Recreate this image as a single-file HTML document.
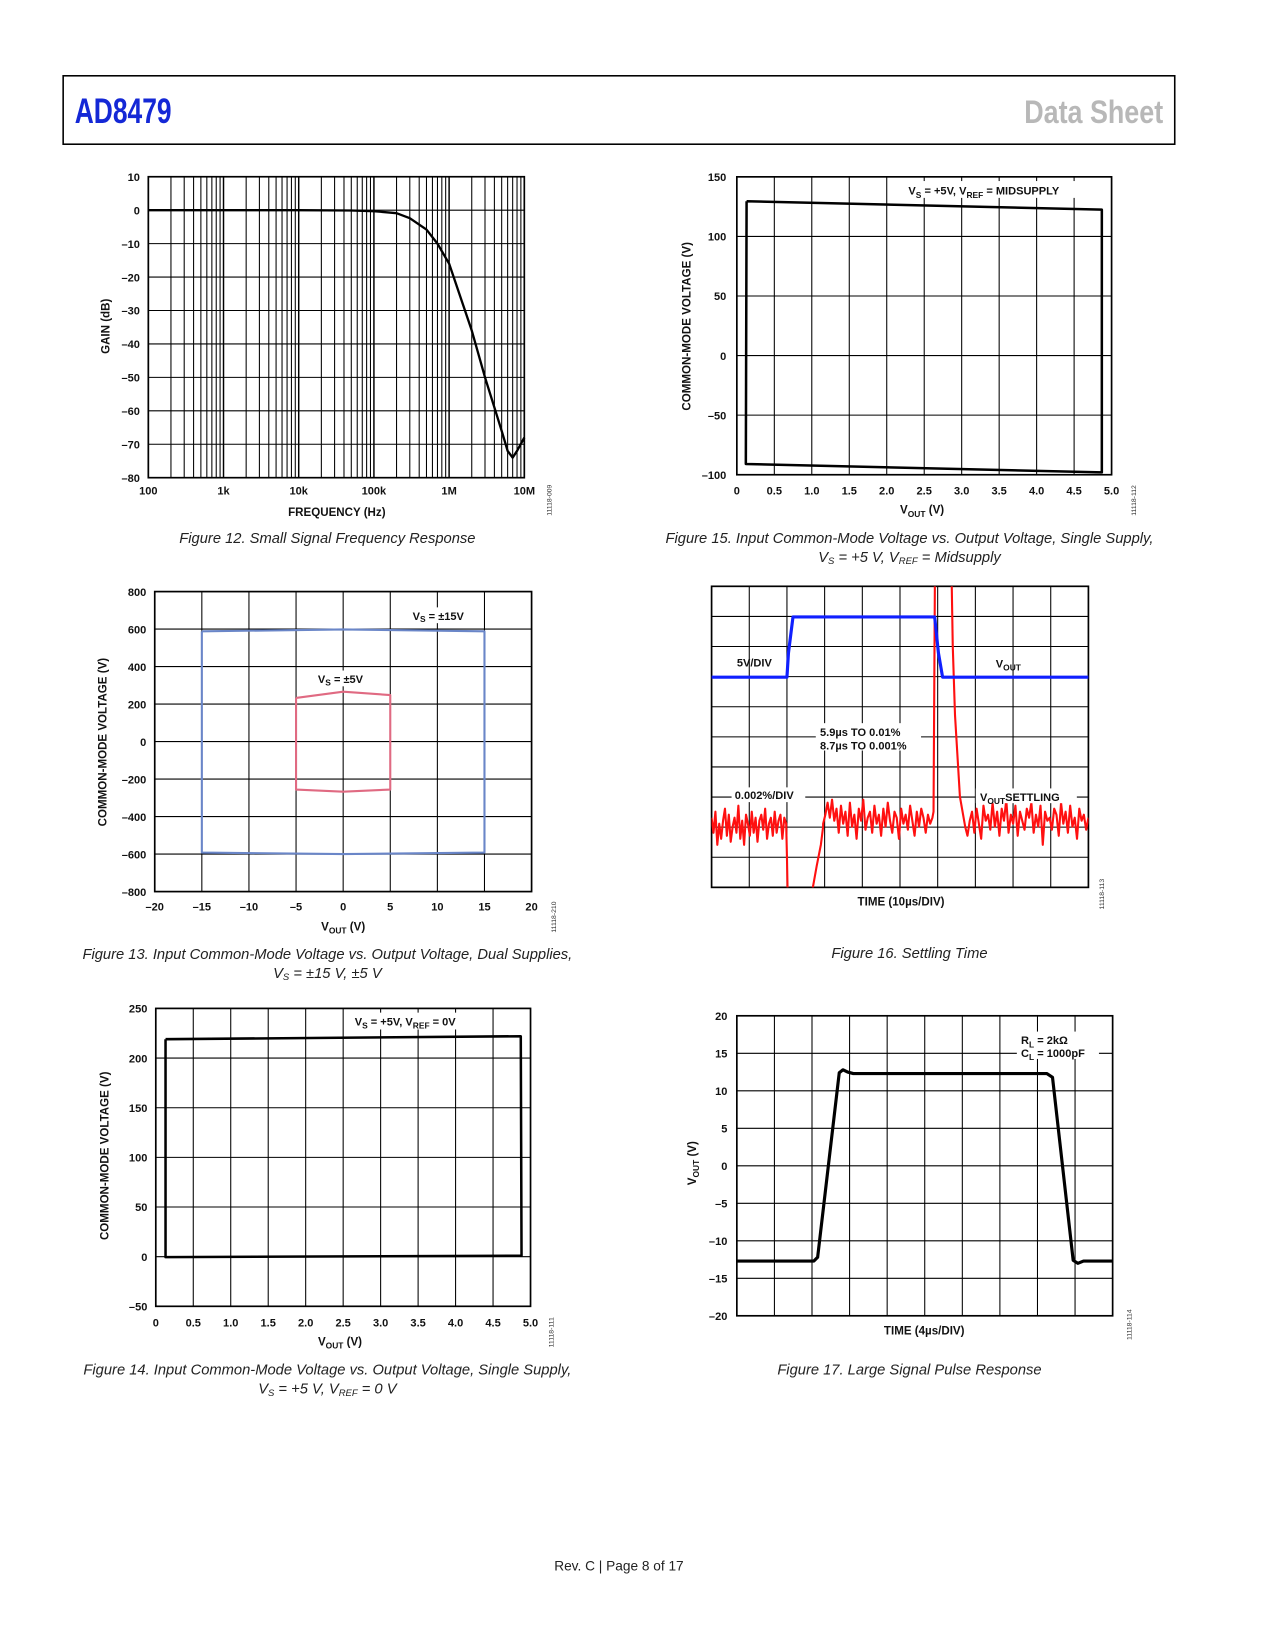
<!DOCTYPE html>
<html><head><meta charset="utf-8"><style>
html,body{margin:0;padding:0;background:#fff;}
svg{display:block;font-family:"Liberation Sans",Arial,sans-serif;}
.tk{font-size:10.5px;font-weight:bold;fill:#111;}
.ax{font-size:11px;font-weight:bold;fill:#111;}
.cap{font-size:14px;font-style:italic;fill:#222;}
.code{font-size:6.5px;fill:#333;}
</style></head><body>
<svg id="pg" width="1275" height="1650" viewBox="0 0 1211.25 1567.5">
<rect x="60" y="72" width="1056" height="65" fill="none" stroke="#000" stroke-width="1.5"/>
<text x="71" y="117" font-size="33" font-weight="bold" fill="#1428d6" textLength="92" lengthAdjust="spacingAndGlyphs">AD8479</text>
<text x="1105" y="117" font-size="31" font-weight="bold" fill="#b8b8b8" text-anchor="end" textLength="132" lengthAdjust="spacingAndGlyphs">Data Sheet</text>

<!-- Fig 12 titles -->
<text class="ax" x="320" y="490" text-anchor="middle">FREQUENCY (Hz)</text>
<text class="ax" transform="translate(104,310) rotate(-90)" text-anchor="middle">GAIN (dB)</text>
<text class="code" transform="translate(524,490) rotate(-90)">11118-009</text>
<text class="cap" x="311" y="516" text-anchor="middle">Figure 12. Small Signal Frequency Response</text>

<!-- Fig 15 titles -->
<text class="ax" x="876" y="488" text-anchor="middle">V<tspan font-size="8" dy="3">OUT</tspan><tspan dy="-3"> (V)</tspan></text>
<text class="ax" transform="translate(656,310) rotate(-90)" text-anchor="middle">COMMON-MODE VOLTAGE (V)</text>
<text class="code" transform="translate(1079,490) rotate(-90)">11118-112</text>
<text class="cap" x="864" y="516" text-anchor="middle">Figure 15. Input Common-Mode Voltage vs. Output Voltage, Single Supply,</text>
<text class="cap" x="864" y="534" text-anchor="middle">V<tspan font-size="9" dy="2">S</tspan><tspan dy="-2"> = +5 V, V</tspan><tspan font-size="9" dy="2">REF</tspan><tspan dy="-2"> = Midsupply</tspan></text>

<!-- Fig 13 titles -->
<text class="ax" x="326" y="884" text-anchor="middle">V<tspan font-size="8" dy="3">OUT</tspan><tspan dy="-3"> (V)</tspan></text>
<text class="ax" transform="translate(101,705) rotate(-90)" text-anchor="middle">COMMON-MODE VOLTAGE (V)</text>
<text class="code" transform="translate(528,886) rotate(-90)">11118-210</text>
<text class="cap" x="311" y="911" text-anchor="middle">Figure 13. Input Common-Mode Voltage vs. Output Voltage, Dual Supplies,</text>
<text class="cap" x="311" y="929" text-anchor="middle">V<tspan font-size="9" dy="2">S</tspan><tspan dy="-2"> = ±15 V, ±5 V</tspan></text>

<!-- Fig 14 titles -->
<text class="ax" x="323" y="1278" text-anchor="middle">V<tspan font-size="8" dy="3">OUT</tspan><tspan dy="-3"> (V)</tspan></text>
<text class="ax" transform="translate(103,1098) rotate(-90)" text-anchor="middle">COMMON-MODE VOLTAGE (V)</text>
<text class="code" transform="translate(526,1280) rotate(-90)">11118-111</text>
<text class="cap" x="311" y="1306" text-anchor="middle">Figure 14. Input Common-Mode Voltage vs. Output Voltage, Single Supply,</text>
<text class="cap" x="311" y="1324" text-anchor="middle">V<tspan font-size="9" dy="2">S</tspan><tspan dy="-2"> = +5 V, V</tspan><tspan font-size="9" dy="2">REF</tspan><tspan dy="-2"> = 0 V</tspan></text>

<!-- Fig 16 titles -->
<text class="ax" x="856" y="860" text-anchor="middle">TIME (10µs/DIV)</text>
<text class="code" transform="translate(1049,864) rotate(-90)">11118-113</text>
<text class="cap" x="864" y="910" text-anchor="middle">Figure 16. Settling Time</text>

<!-- Fig 17 titles -->
<text class="ax" x="878" y="1268" text-anchor="middle">TIME (4µs/DIV)</text>
<text class="ax" transform="translate(661,1105) rotate(-90)" text-anchor="middle">V<tspan font-size="8" dy="3">OUT</tspan><tspan dy="-3"> (V)</tspan></text>
<text class="code" transform="translate(1075,1273) rotate(-90)">11118-114</text>
<text class="cap" x="864" y="1306" text-anchor="middle">Figure 17. Large Signal Pulse Response</text>

<text x="588" y="1492" font-size="13" fill="#222" text-anchor="middle">Rev. C | Page 8 of 17</text>
<g id="charts"></g>
</svg>
<script>
// ---- Fig 12 data ----
const f12Freq = [100,1000,10000,50000,100000,200000,300000,500000,700000,1000000,2000000,3000000,4000000,5000000,6000000,7000000,8000000,10000000];
const f12Gain = [0,0,0,-0.1,-0.3,-0.9,-2.4,-5.8,-10,-16,-36,-50,-59,-66,-72,-74,-72,-68];
const f12YTicks = [10,0,-10,-20,-30,-40,-50,-60,-70,-80];
const f12YLabels = ['10','0','–10','–20','–30','–40','–50','–60','–70','–80'];
const f12XTicks = [100,1000,10000,100000,1000000,10000000];
const f12XLabels = ['100','1k','10k','100k','1M','10M'];
// ---- Fig 15 data ----
const f15Vout = [0.13,4.87,4.87,0.12,0.13];
const f15Vcm = [129.5,122.5,-98,-91,129.5];
const f15YTicks = [150,100,50,0,-50,-100];
const f15YLabels = ['150','100','50','0','–50','–100'];
const f15XTicks = [0,0.5,1,1.5,2,2.5,3,3.5,4,4.5,5];
const f15XLabels = ['0','0.5','1.0','1.5','2.0','2.5','3.0','3.5','4.0','4.5','5.0'];
// ---- Fig 13 data ----
const f13VoutA = [-15,0,15,15,0,-15,-15];
const f13VcmA = [588,598,588,-592,-600,-592,588];
const f13VoutB = [-5,0,5,5,0,-5,-5];
const f13VcmB = [233,266,248,-256,-267,-256,233];
const f13YTicks = [800,600,400,200,0,-200,-400,-600,-800];
const f13YLabels = ['800','600','400','200','0','–200','–400','–600','–800'];
const f13XTicks = [-20,-15,-10,-5,0,5,10,15,20];
const f13XLabels = ['–20','–15','–10','–5','0','5','10','15','20'];
// ---- Fig 14 data ----
const f14Vout = [0.13,4.87,4.88,0.13,0.13];
const f14Vcm = [219,222,1,-0.5,219];
const f14YTicks = [250,200,150,100,50,0,-50];
const f14YLabels = ['250','200','150','100','50','0','–50'];
const f14XTicks = f15XTicks;
const f14XLabels = f15XLabels;
// ---- Fig 16 data ----
const f16BlueT = [0,20,20.4,21.6,59.2,60.2,61.3,100];
const f16BlueV = [0,0,4,10,10,4,0,0];
const f16NoiseA = [0.3,-0.2,0.5,-0.6,0.1,-0.4,0.2,0.6,-0.3,0.4,-0.5,0.0,0.3,-0.2,0.7,-0.4,0.2,-0.6,0.4,0.1,-0.3,0.5,-0.2,0.3,-0.5,0.2,0.4,-0.1,0.6,-0.4,0.1,0.3,-0.3,0.5,-0.2,0.2,0.4,-0.4,0.3,0.1];
const f16NoiseASpan = [0,19.8];
const f16DropT = [20.0,20.3];
const f16DropV = [-1,-3];
const f16RecT = [26.6,26.9,27.9,29.0,29.6];
const f16RecV = [-2.5,-2,-1.3,-0.6,0];
const f16NoiseB = [0.1,0.4,0.8,0.3,0.9,0.2,0.6,-0.2,0.7,0.1,0.5,-0.3,0.8,0.0,0.4,-0.4,0.6,0.2,0.9,-0.1,0.3,0.5,-0.2,0.7,0.1,0.4,-0.3,0.6,0.0,0.8,0.2,-0.2,0.5,0.3,-0.4,0.6,0.1,0.4,-0.1,0.7,0.2,-0.3,0.5,0.0,0.6,0.3,-0.2,0.4,0.1,0.3];
const f16NoiseBSpan = [29.6,58.6];
const f16SpikeT = [58.9,59.3,63.6,64.0,64.6,65.9,67.3];
const f16SpikeV = [0.5,9,9,6,3.7,1.0,0];
const f16NoiseC = [0.0,-0.3,0.2,0.5,-0.2,0.6,0.1,-0.4,0.7,0.2,0.4,-0.1,0.8,0.0,0.5,-0.3,0.6,0.2,0.9,-0.2,0.4,0.1,0.7,-0.3,0.5,0.2,-0.1,0.6,0.3,0.8,-0.2,0.4,0.0,0.7,-0.6,0.5,0.2,0.3,-0.1,0.6,0.4,-0.3,0.8,0.1,0.5,-0.2,0.7,0.0,0.3,-0.4,0.6,0.2,0.4,-0.1,0.3];
const f16NoiseCSpan = [67.3,100];
// ---- Fig 17 data ----
const f17T = [0,8.2,8.6,10.9,11.3,11.8,12.4,33.0,33.6,35.8,36.3,36.9,40];
const f17V = [-12.7,-12.7,-12.2,12.4,12.8,12.5,12.3,12.3,11.8,-12.6,-13.0,-12.7,-12.7];
const f17YTicks = [20,15,10,5,0,-5,-10,-15,-20];
const f17YLabels = ['20','15','10','5','0','–5','–10','–15','–20'];

const NS='http://www.w3.org/2000/svg';
const root=document.getElementById('charts');
function mk(tag,name,parent){
  const el=document.createElementNS(NS,tag);
  
  
  (parent||root).appendChild(el);
  return el;
}
function ln(x1,y1,x2,y2,w,name,col){
  const l=mk('line',name);
  l.setAttribute('x1',x1);l.setAttribute('y1',y1);l.setAttribute('x2',x2);l.setAttribute('y2',y2);
  l.setAttribute('stroke',col||'#000');l.setAttribute('stroke-width',w);
  return l;
}
function tx(x,y,s,anchor,name,cls){
  const t=mk('text',name);
  t.setAttribute('x',x);t.setAttribute('y',y);t.setAttribute('text-anchor',anchor);
  t.setAttribute('class',cls||'tk');t.textContent=s;return t;
}
function border(x0,y0,x1,y1,name){
  const r=mk('rect',name);
  r.setAttribute('x',x0);r.setAttribute('y',y0);r.setAttribute('width',x1-x0);r.setAttribute('height',y1-y0);
  r.setAttribute('fill','none');r.setAttribute('stroke','#000');r.setAttribute('stroke-width',1.6);
}
function poly(xs,ys,col,w,name,clip){
  const p=mk('polyline',name);
  p.setAttribute('points',xs.map((x,i)=>x.toFixed(2)+','+ys[i].toFixed(2)).join(' '));
  p.setAttribute('fill','none');p.setAttribute('stroke',col);p.setAttribute('stroke-width',w);
  p.setAttribute('stroke-linejoin','round');
  if(clip) p.setAttribute('clip-path','url(#'+clip+')');
  return p;
}
function clipRect(id,x0,y0,x1,y1){
  const cp=mk('clipPath',id+'-def');cp.setAttribute('id',id);
  const r=mk('rect',id+'-rect',cp);
  r.setAttribute('x',x0);r.setAttribute('y',y0);r.setAttribute('width',x1-x0);r.setAttribute('height',y1-y0);
}
function bgLabel(x,y,w,h,name){
  const r=mk('rect',name);
  r.setAttribute('x',x);r.setAttribute('y',y);r.setAttribute('width',w);r.setAttribute('height',h);r.setAttribute('fill','#fff');
}

// ===== Fig 12 =====
(function(){
  const L=140.9,R=498.1,T=167.9,B=453.8;
  const X=f=>L+(Math.log10(f)-2)*(R-L)/5;
  const Y=g=>T+(10-g)*(B-T)/90;
  for(let d=2;d<7;d++) for(let m=1;m<10;m++){const f=m*Math.pow(10,d); if(f>1e7)break; ln(X(f),T,X(f),B,m==1?1.4:1,'fig12-vgrid');}
  f12YTicks.forEach((v,i)=>{ln(L,Y(v),R,Y(v),1,'fig12-hgrid');tx(L-8,Y(v)+4,f12YLabels[i],'end','fig12-y-tick');});
  f12XTicks.forEach((v,i)=>tx(X(v),470,f12XLabels[i],'middle','fig12-x-tick'));
  border(L,T,R,B,'fig12-plot-frame');
  poly(f12Freq.map(X),f12Gain.map(Y),'#000',2.2,'fig12-gain-curve');
})();

// ===== Fig 15 =====
(function(){
  const L=700,R=1056,T=168,B=451;
  const X=v=>L+v*(R-L)/5, Y=c=>T+(150-c)*(B-T)/250;
  f15XTicks.forEach((v,i)=>{ln(X(v),T,X(v),B,1,'fig15-vgrid');tx(X(v),470,f15XLabels[i],'middle','fig15-x-tick');});
  f15YTicks.forEach((v,i)=>{ln(L,Y(v),R,Y(v),1,'fig15-hgrid');tx(L-10,Y(v)+4,f15YLabels[i],'end','fig15-y-tick');});
  border(L,T,R,B,'fig15-plot-frame');
  bgLabel(858,172,176,16,'fig15-label-bg');
  const t=tx(863,185,'','start','fig15-condition-label');
  t.innerHTML='V<tspan font-size="8" dy="3">S</tspan><tspan dy="-3"> = +5V, V</tspan><tspan font-size="8" dy="3">REF</tspan><tspan dy="-3"> = MIDSUPPLY</tspan>';
  poly(f15Vout.map(X),f15Vcm.map(Y),'#000',2.4,'fig15-cm-boundary');
})();

// ===== Fig 13 =====
(function(){
  const L=147,R=505,T=562,B=847;
  const X=v=>L+(v+20)*(R-L)/40, Y=c=>T+(800-c)*(B-T)/1600;
  f13XTicks.forEach((v,i)=>{ln(X(v),T,X(v),B,1,'fig13-vgrid');tx(X(v),865,f13XLabels[i],'middle','fig13-x-tick');});
  f13YTicks.forEach((v,i)=>{ln(L,Y(v),R,Y(v),1,'fig13-hgrid');tx(L-8,Y(v)+4,f13YLabels[i],'end','fig13-y-tick');});
  border(L,T,R,B,'fig13-plot-frame');
  bgLabel(388,577,64,15,'fig13-label15-bg');
  const a=tx(392,589,'','start','fig13-label-vs15');
  a.innerHTML='V<tspan font-size="8" dy="2">S</tspan><tspan dy="-2"> = ±15V</tspan>';
  bgLabel(298,637,56,15,'fig13-label5-bg');
  const b=tx(302,649,'','start','fig13-label-vs5');
  b.innerHTML='V<tspan font-size="8" dy="2">S</tspan><tspan dy="-2"> = ±5V</tspan>';
  poly(f13VoutA.map(X),f13VcmA.map(Y),'#6a86c8',2,'fig13-series-15v');
  poly(f13VoutB.map(X),f13VcmB.map(Y),'#e06a82',2,'fig13-series-5v');
})();

// ===== Fig 14 =====
(function(){
  const L=148,R=504,T=958,B=1241;
  const X=v=>L+v*(R-L)/5, Y=c=>T+(250-c)*(B-T)/300;
  f14XTicks.forEach((v,i)=>{ln(X(v),T,X(v),B,1,'fig14-vgrid');tx(X(v),1260,f14XLabels[i],'middle','fig14-x-tick');});
  f14YTicks.forEach((v,i)=>{ln(L,Y(v),R,Y(v),1,'fig14-hgrid');tx(L-8,Y(v)+4,f14YLabels[i],'end','fig14-y-tick');});
  border(L,T,R,B,'fig14-plot-frame');
  bgLabel(333,962,122,16,'fig14-label-bg');
  const t=tx(337,974,'','start','fig14-condition-label');
  t.innerHTML='V<tspan font-size="8" dy="3">S</tspan><tspan dy="-3"> = +5V, V</tspan><tspan font-size="8" dy="3">REF</tspan><tspan dy="-3"> = 0V</tspan>';
  poly(f14Vout.map(X),f14Vcm.map(Y),'#000',2.4,'fig14-cm-boundary');
})();

// ===== Fig 16 =====
(function(){
  const L=676,R=1034,T=557,B=843;
  const X=t=>L+t*(R-L)/100;
  const YR=v=>785.4-v*28.6;
  const YB=v=>643.3-v/5*28.6;
  for(let i=0;i<=10;i++) ln(X(i*10),T,X(i*10),B,1,'fig16-vgrid');
  for(let j=0;j<=10;j++) ln(L,T+j*(B-T)/10,R,T+j*(B-T)/10,1,'fig16-hgrid');
  border(L,T,R,B,'fig16-plot-frame');
  clipRect('c16',L,T,R,B);
  const rt=[],rv=[];
  const addNoise=(arr,span)=>arr.forEach((v,i)=>{rt.push(span[0]+i*(span[1]-span[0])/(arr.length-1));rv.push(v);});
  addNoise(f16NoiseA,f16NoiseASpan);
  f16DropT.forEach((t,i)=>{rt.push(t);rv.push(f16DropV[i]);});
  const p1=poly(rt.map(X),rv.map(YR),'#ff1010',2,'fig16-settling-trace-a','c16');
  const st=[],sv=[];
  f16RecT.forEach((t,i)=>{st.push(t);sv.push(f16RecV[i]);});
  f16NoiseB.forEach((v,i)=>{st.push(f16NoiseBSpan[0]+i*(f16NoiseBSpan[1]-f16NoiseBSpan[0])/(f16NoiseB.length-1));sv.push(v);});
  f16SpikeT.forEach((t,i)=>{st.push(t);sv.push(f16SpikeV[i]);});
  f16NoiseC.forEach((v,i)=>{st.push(f16NoiseCSpan[0]+i*(f16NoiseCSpan[1]-f16NoiseCSpan[0])/(f16NoiseC.length-1));sv.push(v);});
  poly(st.map(X),sv.map(YR),'#ff1010',2,'fig16-settling-trace-b','c16');
  poly(f16BlueT.map(X),f16BlueV.map(YB),'#1020ff',3,'fig16-vout-trace','c16');
  tx(700,633,'5V/DIV','start','fig16-label-5vdiv');
  const vo=tx(946,634,'','start','fig16-label-vout');
  vo.innerHTML='V<tspan font-size="8" dy="3">OUT</tspan>';
  bgLabel(775,687,100,26,'fig16-note-bg');
  tx(779,699,'5.9µs TO 0.01%','start','fig16-note-line1');
  tx(779,712,'8.7µs TO 0.001%','start','fig16-note-line2');
  bgLabel(695,748,70,14,'fig16-div-bg');
  tx(698,759,'0.002%/DIV','start','fig16-label-div');
  bgLabel(927,749,96,14,'fig16-settling-bg');
  const vs=tx(931,761,'','start','fig16-label-settling');
  vs.innerHTML='V<tspan font-size="8" dy="3">OUT</tspan><tspan dy="-3">SETTLING</tspan>';
})();

// ===== Fig 17 =====
(function(){
  const L=700,R=1057,T=965,B=1250;
  const X=t=>L+t*(R-L)/40, Y=v=>T+(20-v)*(B-T)/40;
  for(let i=0;i<=10;i++) ln(X(i*4),T,X(i*4),B,1,'fig17-vgrid');
  f17YTicks.forEach((v,i)=>{ln(L,Y(v),R,Y(v),1,'fig17-hgrid');tx(L-9,Y(v)+4,f17YLabels[i],'end','fig17-y-tick');});
  border(L,T,R,B,'fig17-plot-frame');
  bgLabel(966,980,78,26,'fig17-label-bg');
  const a=tx(970,992,'','start','fig17-label-rl');
  a.innerHTML='R<tspan font-size="8" dy="3">L</tspan><tspan dy="-3"> = 2kΩ</tspan>';
  const b=tx(970,1004,'','start','fig17-label-cl');
  b.innerHTML='C<tspan font-size="8" dy="3">L</tspan><tspan dy="-3"> = 1000pF</tspan>';
  poly(f17T.map(X),f17V.map(Y),'#000',3,'fig17-pulse-trace');
})();
</script>
</body></html>
